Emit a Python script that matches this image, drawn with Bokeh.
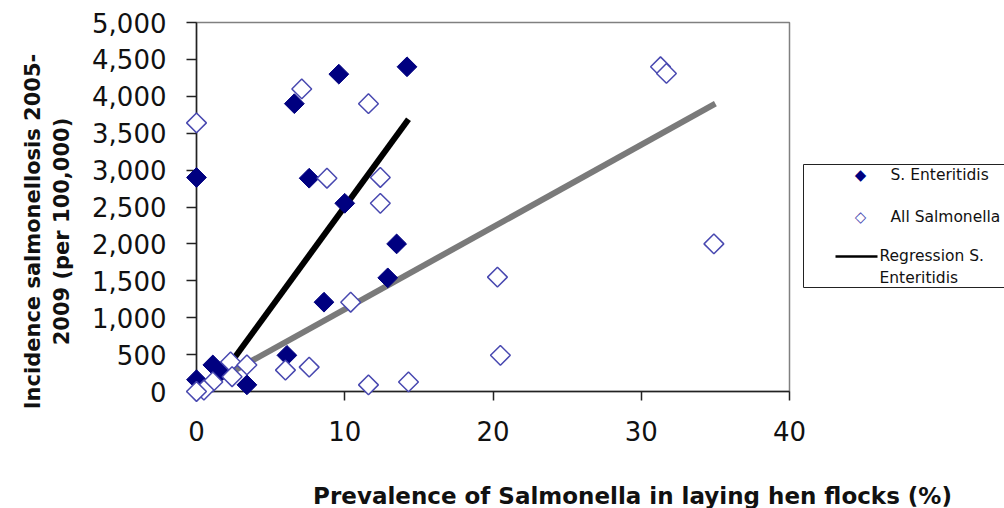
import numpy as np
from bokeh.plotting import figure
from bokeh.models import FixedTicker, NumeralTickFormatter, Range1d
from bokeh.embed import file_html
from bokeh.resources import INLINE
from bokeh.core.properties import value

# S. Enteritidis prevalence (%) vs incidence (per 100,000)
se_x = [0.0, 6.6, 9.6, 14.2, 7.6, 10.0, 13.5, 12.9, 8.6, 6.1, 3.4, 1.1, 1.7, 0.0]
se_y = [2900, 3900, 4300, 4400, 2890, 2550, 2000, 1540, 1210, 490, 90, 360, 280, 160]

# All Salmonella prevalence (%) vs incidence
all_x = [0.0, 7.1, 11.6, 8.8, 12.4, 12.4, 10.4, 6.0, 7.6, 11.6, 14.3,
         31.3, 31.7, 34.9, 20.3, 20.5, 2.3, 3.4, 2.4, 1.1, 0.5, 0.0]
all_y = [3640, 4100, 3900, 2890, 2900, 2550, 1210, 290, 330, 90, 130,
         4400, 4310, 2000, 1550, 490, 400, 360, 200, 130, 20, 0]

# regression lines (end points)
reg_se_x = [0.9, 14.3]
reg_se_y = [0, 3690]
reg_all_x = [0.0, 35.0]
reg_all_y = [0, 3900]

x_ticks = [0, 10, 20, 30, 40]
y_ticks = [0, 500, 1000, 1500, 2000, 2500, 3000, 3500, 4000, 4500, 5000]

x_title = "Prevalence of Salmonella in laying hen flocks (%)"
y_title_1 = "Incidence salmonellosis 2005-"
y_title_2 = "2009 (per 100,000)"
legend_labels = ["S. Enteritidis", "All Salmonella", "Regression S.", "Enteritidis"]

FONT = "DejaVu Sans"
W, H = 1004, 508
FL, FR, FT, FB = 196, 789, 22, 391   # frame edges in pixels


def dx(px):
    return (px - FL) / (FR - FL) * 40.0


def dy(py):
    return (FB - py) / (FB - FT) * 5000.0


p = figure(width=W, height=H, output_backend="svg", toolbar_location=None,
           x_range=Range1d(0, 40), y_range=Range1d(0, 5000),
           min_border_left=FL, min_border_right=W - FR, min_border_top=FT,
           min_border_bottom=H - FB)
p.grid.visible = False
p.outline_line_color = "#808080"
p.outline_line_width = 1.5
p.background_fill_color = "white"
p.border_fill_color = "white"

for ax in (p.xaxis[0], p.yaxis[0]):
    ax.axis_line_color = "#222222"
    ax.axis_line_width = 1.5
    ax.major_tick_line_color = "#222222"
    ax.major_tick_line_width = 1.5
    ax.major_tick_in = 0
    ax.minor_tick_line_color = None
    ax.major_label_text_font = FONT
    ax.major_label_text_font_size = "26px"
    ax.major_label_text_color = "#111111"
    ax.major_label_standoff = 20

p.xaxis.ticker = FixedTicker(ticks=x_ticks)
p.yaxis.ticker = FixedTicker(ticks=y_ticks)
p.yaxis.formatter = NumeralTickFormatter(format="0,0")
p.xaxis.major_tick_out = 9
p.yaxis.major_tick_out = 10

# regression lines
p.line(reg_all_x, reg_all_y, line_color="#7a7a7a", line_width=6)
p.line(reg_se_x, reg_se_y, line_color="black", line_width=6)

# markers (not clipped, drawn over axes like the original)
p.scatter(se_x, se_y, marker="square", angle=np.pi / 4, size=14,
          fill_color="#000080", line_color="#000080", line_width=1, level="overlay")
p.scatter(all_x, all_y, marker="square", angle=np.pi / 4, size=14,
          fill_color="white", line_color="#4848b0", line_width=1.5, level="overlay")

# ---- legend (drawn outside the plot area, unclipped) ----
p.quad(left=[dx(803)], right=[dx(1030)], top=[dy(164)], bottom=[dy(287)],
       fill_color="white", line_color="#222222", line_width=1, level="overlay")
p.text(x=[dx(860), dx(860)], y=[dy(174), dy(216)], text=["\u25c6", "\u25c7"],
       text_font=value(FONT), text_font_size="15px",
       text_color=["#000080", "#4848b0"], text_align="center",
       text_baseline="middle", level="overlay")
p.line([dx(835), dx(877)], [dy(256), dy(256)], line_color="black", line_width=2.5,
       level="overlay")
p.text(x=[dx(890), dx(890), dx(879), dx(879)],
       y=[dy(174), dy(216), dy(255), dy(277)],
       text=legend_labels, text_font=value(FONT), text_font_size="15.5px",
       text_color="#111111", text_baseline="middle", text_align="left", level="overlay")

# ---- axis titles ----
p.text(x=[dx(632)], y=[dy(495)], text=[x_title], text_font=value(FONT),
       text_font_style="bold", text_font_size="23px", text_color="#111111",
       text_align="center", text_baseline="middle", level="overlay")
p.text(x=[dx(32), dx(61)], y=[dy(231), dy(231)], text=[y_title_1, y_title_2],
       angle=np.pi / 2, text_font=value(FONT), text_font_style="bold",
       text_font_size="21px", text_color="#111111", text_align="center",
       text_baseline="middle", level="overlay")

open("out.html", "w").write(file_html(p, INLINE))
